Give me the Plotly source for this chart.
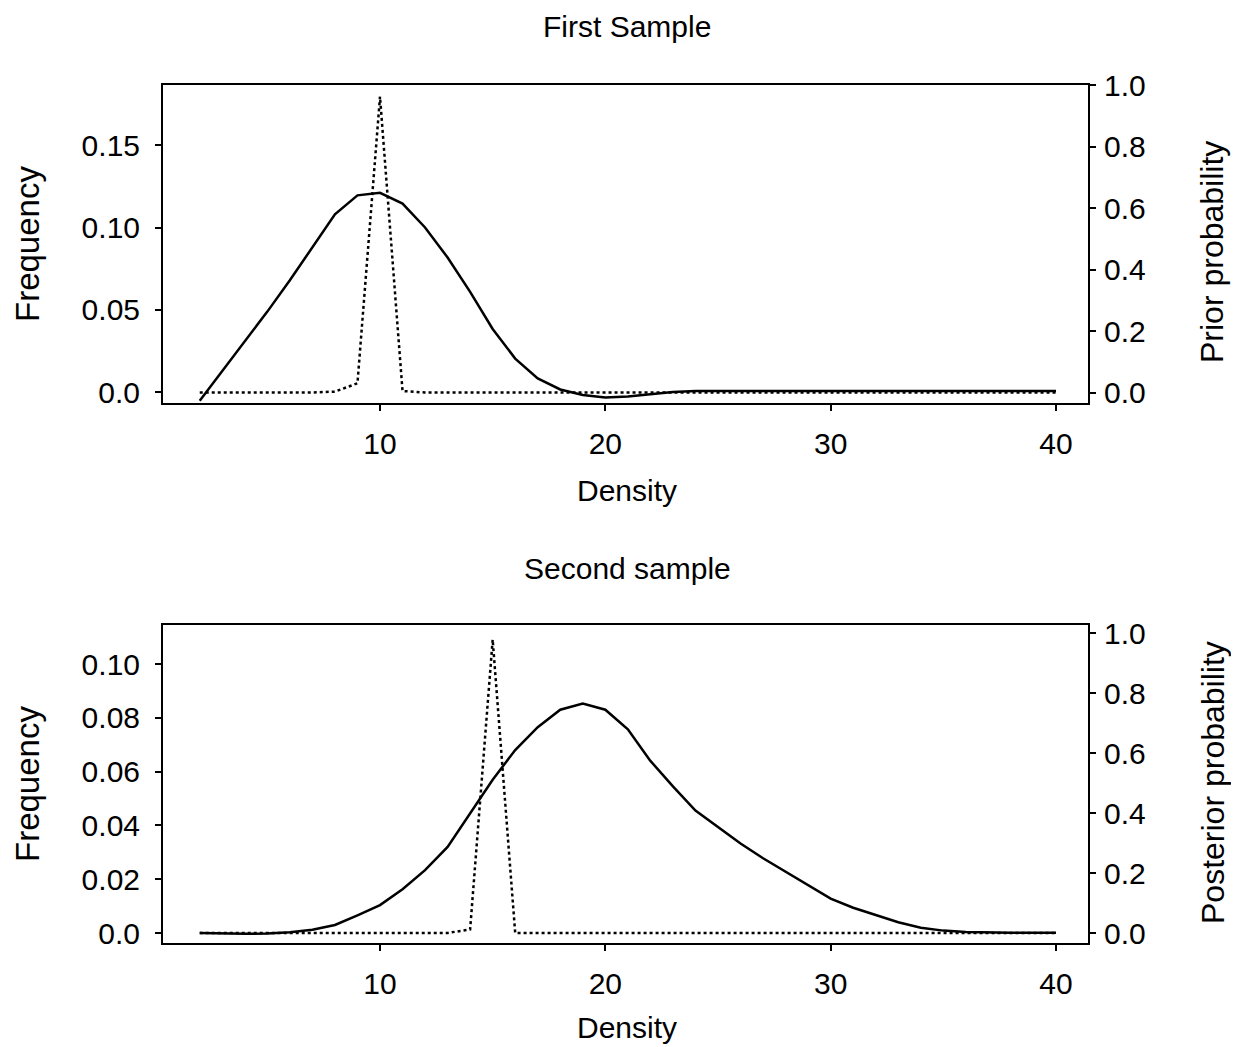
import plotly.graph_objects as go
from plotly.subplots import make_subplots

density = list(range(2, 41))

# First sample: frequency curve (left axis) and prior probability (right axis)
freq1 = [-0.005, 0.013, 0.031, 0.049, 0.068, 0.088, 0.108, 0.1195, 0.121, 0.1145,
         0.100, 0.0818, 0.061, 0.0385, 0.0205, 0.0085, 0.0018, -0.0015, -0.003, -0.0025,
         -0.001, 0.0002, 0.0008, 0.0008, 0.0008, 0.0008, 0.0008, 0.0008, 0.0008, 0.0008,
         0.0008, 0.0008, 0.0008, 0.0008, 0.0008, 0.0008, 0.0008, 0.0008, 0.0008]
prior = [0, 0, 0, 0, 0, 0, 0.003, 0.03, 0.962, 0.005,
         0, 0, 0, 0, 0, 0, 0, 0, 0, 0,
         0, 0, 0, 0, 0, 0, 0, 0, 0, 0,
         0, 0, 0, 0, 0, 0, 0, 0, 0]

# Second sample: frequency curve and posterior probability
freq2 = [0.0, -0.0002, -0.0003, -0.0002, 0.0003, 0.0012, 0.003, 0.0066, 0.0104, 0.0163,
         0.0234, 0.032, 0.0445, 0.057, 0.068, 0.0765, 0.083, 0.0853, 0.083, 0.0757,
         0.064, 0.0545, 0.0455, 0.0395, 0.0333, 0.0278, 0.0227, 0.0178, 0.0128, 0.0094,
         0.0066, 0.004, 0.002, 0.0009, 0.0004, 0.0002, 0.0001, 0.0001, 0.0001]
posterior = [0, 0, 0, 0, 0, 0, 0, 0, 0, 0,
             0, 0, 0.012, 0.978, 0, 0, 0, 0, 0, 0,
             0, 0, 0, 0, 0, 0, 0, 0, 0, 0,
             0, 0, 0, 0, 0, 0, 0, 0, 0]

x_ticks = [10, 20, 30, 40]
y1_ticks = [0.0, 0.05, 0.10, 0.15]
y1_labels = ["0.0", "0.05", "0.10", "0.15"]
y2_ticks = [0.0, 0.02, 0.04, 0.06, 0.08, 0.10]
y2_labels = ["0.0", "0.02", "0.04", "0.06", "0.08", "0.10"]
p_ticks = [0.0, 0.2, 0.4, 0.6, 0.8, 1.0]
p_labels = ["0.0", "0.2", "0.4", "0.6", "0.8", "1.0"]

titles = ["First Sample", "Second sample"]
FONT = "Liberation Sans, Arial, Helvetica, sans-serif"

# layout geometry (page has an 8px body margin)
OFF = 8
W, H = 1231, 1039
ML, MR, MT, MB = 155, 151, 77, 104
PH = H - MT - MB
PW = W - ML - MR
sub_h = 318

fig = make_subplots(rows=2, cols=1, specs=[[{"secondary_y": True}], [{"secondary_y": True}]],
                    vertical_spacing=0.1)

solid = dict(color="black", width=2.5)
dotted = dict(color="black", width=2.5, dash="3px,3px")

fig.add_trace(go.Scatter(x=density, y=freq1, mode="lines", line=solid, showlegend=False),
              row=1, col=1, secondary_y=False)
fig.add_trace(go.Scatter(x=density, y=prior, mode="lines", line=dotted, showlegend=False),
              row=1, col=1, secondary_y=True)
fig.add_trace(go.Scatter(x=density, y=freq2, mode="lines", line=solid, showlegend=False),
              row=2, col=1, secondary_y=False)
fig.add_trace(go.Scatter(x=density, y=posterior, mode="lines", line=dotted, showlegend=False),
              row=2, col=1, secondary_y=True)

top_dom = [1 - sub_h / PH, 1]
bot_dom = [0, sub_h / PH]

axis_common = dict(showgrid=False, zeroline=False, showline=True, linecolor="black",
                   linewidth=2, ticks="outside", ticklen=6, tickwidth=1.5, tickcolor="black",
                   tickfont=dict(family=FONT, size=30, color="black"))

xr = [0.37, 41.42]
fig.update_layout(
    xaxis=dict(**axis_common, range=xr, tickvals=x_ticks, mirror=True, domain=[0, 1],
               anchor="y", ticklabelstandoff=7),
    xaxis2=dict(**axis_common, range=xr, tickvals=x_ticks, mirror=True, domain=[0, 1],
                anchor="y3", ticklabelstandoff=7),
    yaxis=dict(**axis_common, range=[-0.0064, 0.1864], tickvals=y1_ticks, ticktext=y1_labels,
               domain=top_dom, ticklabelstandoff=9),
    yaxis2=dict(**axis_common, range=[-0.034, 1.0], tickvals=p_ticks, ticktext=p_labels,
                side="right", overlaying="y", ticklabelstandoff=2),
    yaxis3=dict(**axis_common, range=[-0.0037, 0.1145], tickvals=y2_ticks, ticktext=y2_labels,
                domain=bot_dom, ticklabelstandoff=9),
    yaxis4=dict(**axis_common, range=[-0.0333, 1.0267], tickvals=p_ticks, ticktext=p_labels,
                side="right", overlaying="y3", ticklabelstandoff=2),
)


def py(pix):
    return (H - MB - (pix - OFF)) / PH


def px(pix):
    return (pix - OFF - ML) / PW


annots = [
    (titles[0], px(627), py(27), 0, 30),
    (titles[1], px(627), py(568), 0, 30),
    ("Density", px(627), py(491), 0, 30),
    ("Density", px(627), py(1027), 0, 30),
    ("Frequency", px(27), py(244), -90, 33),
    ("Frequency", px(27), py(784), -90, 33),
    ("Prior probability", px(1212), py(252), -90, 32),
    ("Posterior probability", px(1213), py(783), -90, 32),
]
for text, x, y, ang, size in annots:
    fig.add_annotation(text=text, x=x, y=y, xref="paper", yref="paper", showarrow=False,
                       textangle=ang, xanchor="center", yanchor="middle",
                       font=dict(family=FONT, size=size, color="black"))

fig.update_layout(width=W, height=H, margin=dict(l=ML, r=MR, t=MT, b=MB),
                  plot_bgcolor="white", paper_bgcolor="white", showlegend=False)

fig.write_html("out.html")
